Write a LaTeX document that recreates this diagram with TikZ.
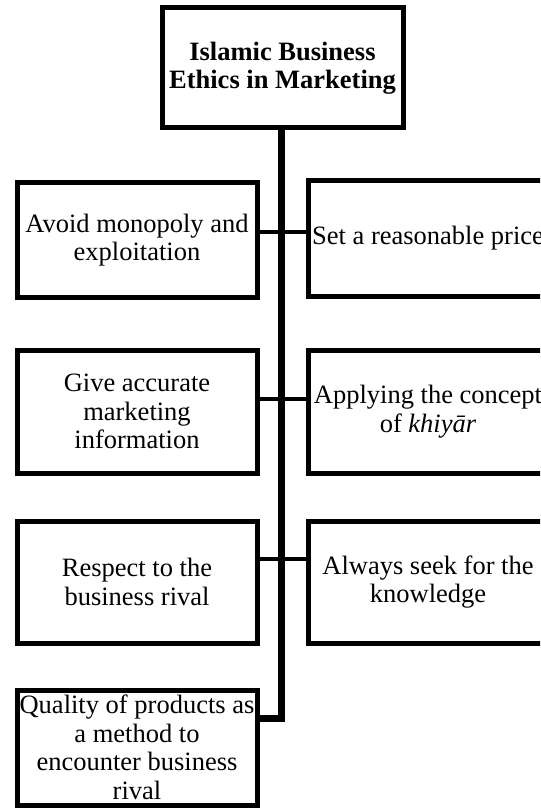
\documentclass[tikz,border=0pt]{standalone}
\usepackage{fontspec}
\setmainfont{Liberation Serif}
\begin{document}
\begin{tikzpicture}[x=1pt,y=-1pt,
  box/.style={draw=black, line width=5pt, fill=white, rectangle,
    inner xsep=0pt, inner ysep=2pt, minimum width=240pt, align=center,
    font=\fontsize{26.5}{28.5}\selectfont},
  headbox/.style={box, minimum width=241pt, minimum height=120pt,
    font=\fontsize{26.5}{28.5}\selectfont\bfseries},
  trunk/.style={line width=7pt, line join=miter},
  link/.style={line width=4pt}]
  \useasboundingbox (0,0) rectangle (540,810);
  \clip (0,0) rectangle (540,810);

  % junctions on the central trunk
  \coordinate (j1) at (281,232);
  \coordinate (j2) at (281,399);
  \coordinate (j3) at (281,559);
  \coordinate (j4) at (281,718);

  % heading
  \node[headbox] (title) at (282.5,68) {Islamic Business\\Ethics in Marketing};

  % trunk and branches (drawn beneath the boxes)
  \draw[trunk] (j1 |- title.south) -- (j4) -- (j4 -| 257,0);

  % left column
  \node[box, minimum height=115pt] (L1) at (137,240) {Avoid monopoly and\\exploitation};
  \node[box, minimum height=123pt] (L2) at (137,411.5) {Give accurate\\marketing\\information};
  \node[box, minimum height=122pt] (L3) at (137,582) {Respect to the\\business rival};
  \node[box, minimum height=115pt] (L4) at (137,747.5) {Quality of products as\\a method to\\encounter business\\rival};

  % right column
  \node[box, minimum height=115pt] (R1) at (428,238.5) {Set a reasonable price};
  \node[box, minimum height=123pt] (R2) at (428,411.5) {Applying the concept\\of \textit{khiyār}};
  \node[box, minimum height=122pt] (R3) at (428,582) {Always seek for the\\knowledge};

  % branch connectors
  \draw[link] (j1 -| L1.east) -- (j1 -| R1.west);
  \draw[link] (j2 -| L2.east) -- (j2 -| R2.west);
  \draw[link] (j3 -| L3.east) -- (j3 -| R3.west);
  \draw[trunk] (j4) -- (j4 -| L4.east);
\end{tikzpicture}
\end{document}
